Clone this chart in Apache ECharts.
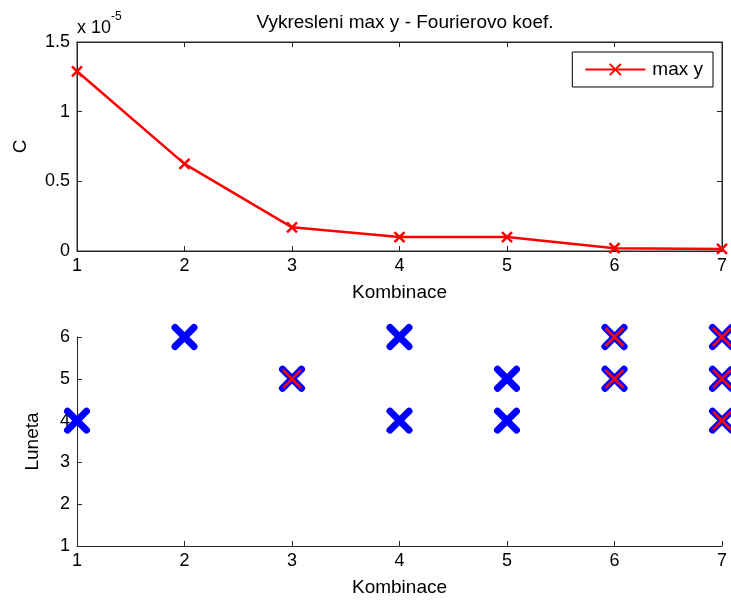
<!DOCTYPE html>
<html>
<head>
<meta charset="utf-8">
<script src="https://cdn.jsdelivr.net/npm/echarts@6/dist/echarts.min.js"></script>
<style>html,body{margin:0;padding:0;background:#fff}#c{width:731px;height:603px}</style>
</head>
<body>
<div id="c"></div>
<script>
// Top subplot data (values in units of 1e-5)
const kombinace = [1, 2, 3, 4, 5, 6, 7];
const maxY = [1.29, 0.625, 0.17, 0.10, 0.10, 0.02, 0.015];
// Bottom subplot data
const blueX = [1, 2, 3, 4, 4, 5, 5, 6, 6, 7, 7, 7];
const blueY = [4, 6, 5, 6, 4, 5, 4, 6, 5, 6, 5, 4];
const redX = [3, 6, 6, 7, 7, 7];
const redY = [5, 6, 5, 6, 5, 4];
const topYTicks = [0, 0.5, 1, 1.5];

const FONT = 'Liberation Sans, Arial, sans-serif';
const axisCol = '#262626';
const X_PATH = 'path://M0,0L10,10M10,0L0,10';
const TICK_FS = 18;
const NAME_FS = 19;

const chart = echarts.init(document.getElementById('c'), null, {renderer: 'canvas'});

function xAx(grid, opts) {
  return Object.assign({
    type: 'value', gridIndex: grid, min: 1, max: 7, interval: 1,
    axisLine: {show: true, onZero: false, lineStyle: {color: axisCol, width: 1}},
    axisTick: {show: true, inside: true, length: 5, lineStyle: {color: axisCol}},
    axisLabel: {show: true, color: '#000', fontFamily: FONT, fontSize: TICK_FS, margin: 6},
    splitLine: {show: false},
    nameLocation: 'middle', nameTextStyle: {color: '#000', fontFamily: FONT, fontSize: NAME_FS}
  }, opts);
}
function yAx(grid, opts) {
  return Object.assign({
    type: 'value', gridIndex: grid,
    axisLine: {show: true, onZero: false, lineStyle: {color: axisCol, width: 1}},
    axisTick: {show: true, inside: true, length: 5, lineStyle: {color: axisCol}},
    axisLabel: {show: true, color: '#000', fontFamily: FONT, fontSize: TICK_FS, margin: 7},
    splitLine: {show: false},
    nameLocation: 'middle', nameRotate: 90, nameTextStyle: {color: '#000', fontFamily: FONT, fontSize: NAME_FS}
  }, opts);
}

const option = {
  animation: false,
  backgroundColor: '#fff',
  title: {
    text: 'Vykresleni max y - Fourierovo koef.',
    left: 400, top: 8, textAlign: 'center',
    textStyle: {fontFamily: FONT, fontSize: 19, fontWeight: 'normal', color: '#000'}
  },
  legend: {
    show: true, data: ['max y'], right: 18, top: 52,
    orient: 'vertical', padding: [8, 10, 8, 12],
    borderColor: '#000', borderWidth: 1, backgroundColor: '#fff',
    itemWidth: 60, itemHeight: 14, itemGap: 6,
    textStyle: {fontFamily: FONT, fontSize: NAME_FS, color: '#000', padding: [0, 0, 0, 2]}
  },
  graphic: [{
    type: 'text', left: 77, top: 11,
    style: {
      text: '{a|x 10}{b|-5}',
      rich: {
        a: {fontFamily: FONT, fontSize: 18, fill: '#000', padding: [8, 0, 0, 0]},
        b: {fontFamily: FONT, fontSize: 12, fill: '#000', verticalAlign: 'top'}
      }
    }
  }],
  grid: [
    {left: 77, right: 9, top: 42, height: 209, show: true, borderColor: axisCol, borderWidth: 1, backgroundColor: 'transparent'},
    {left: 77, right: 9, top: 337, height: 209}
  ],
  xAxis: [
    xAx(0, {name: 'Kombinace', nameGap: 32}),
    xAx(0, {position: 'top', axisLabel: {show: false}}),
    xAx(1, {name: 'Kombinace', nameGap: 32})
  ],
  yAxis: [
    yAx(0, {min: 0, max: 1.5, interval: 0.5, name: 'C', nameGap: 47,
      axisLabel: {color: '#000', fontFamily: FONT, fontSize: TICK_FS, margin: 7,
        formatter: v => (topYTicks.indexOf(v) >= 0 ? String(v) : '')}}),
    yAx(0, {min: 0, max: 1.5, interval: 0.5, position: 'right', axisLabel: {show: false}}),
    yAx(1, {min: 1, max: 6, interval: 1, name: 'Luneta', nameGap: 35})
  ],
  series: [
    {
      name: 'max y', type: 'line', xAxisIndex: 0, yAxisIndex: 0,
      data: kombinace.map((k, i) => [k, maxY[i]]),
      lineStyle: {color: '#ff0000', width: 2.5},
      symbol: X_PATH, symbolSize: 10, showAllSymbol: true,
      itemStyle: {color: 'rgba(0,0,0,0)', borderColor: '#ff0000', borderWidth: 2.5, opacity: 1},
      clip: false
    },
    {
      name: 'blue', type: 'scatter', xAxisIndex: 2, yAxisIndex: 2,
      data: blueX.map((x, i) => [x, blueY[i]]),
      symbol: X_PATH, symbolSize: 19, clip: false,
      itemStyle: {color: 'rgba(0,0,0,0)', borderColor: '#0000ff', borderWidth: 7, borderCap: 'round', opacity: 1},
      z: 3
    },
    {
      name: 'red', type: 'scatter', xAxisIndex: 2, yAxisIndex: 2,
      data: redX.map((x, i) => [x, redY[i]]),
      symbol: X_PATH, symbolSize: 18, clip: false,
      itemStyle: {color: 'rgba(0,0,0,0)', borderColor: '#ff0000', borderWidth: 2.5, opacity: 1},
      z: 4
    }
  ]
};
chart.setOption(option);
</script>
</body>
</html>
